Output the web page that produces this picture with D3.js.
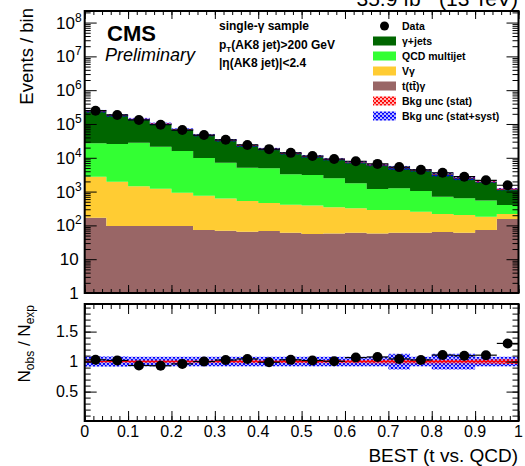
<!DOCTYPE html>
<html>
<head>
<meta charset="utf-8">
<script src="https://cdn.jsdelivr.net/npm/d3@7"></script>
<style>
  body { margin: 0; background: #fff; }
  svg { display: block; font-family: 'Liberation Sans', Arial, Helvetica, sans-serif; }
</style>
</head>
<body>
<svg id="chart" width="525" height="466"></svg>
<script>
// Lower edges of the 20 BEST (t vs. QCD) bins, each 0.05 wide
const binLow = [0, 0.05, 0.1, 0.15, 0.2, 0.25, 0.3, 0.35, 0.4, 0.45,
  0.5, 0.55, 0.6, 0.65, 0.7, 0.75, 0.8, 0.85, 0.9, 0.95];
const binWidth = 0.05;

// Observed events per bin
const dataCounts = [247000, 185000, 131000, 95000, 66000, 47000, 34000, 24000, 18000, 14000,
  11300, 9200, 7900, 6600, 5300, 4400, 3600, 2760, 2160, 1540];

// Background components (stacked bottom to top)
const tGamma = [169, 96, 96, 96, 96, 73, 70, 65, 68, 61,
  56, 58, 61, 58, 61, 61, 64, 61, 73, 155];
const vGamma = [2590, 1860, 1340, 1120, 830, 680, 550, 460, 390, 350,
  330, 285, 260, 228, 225, 193, 153, 142, 108, 62];
const qcdMultijet = [24100, 23600, 26600, 20100, 15000, 9100, 6540, 4560, 4430, 2840,
  2720, 2130, 1440, 910, 970, 790, 490, 430, 360, 185];
const gammaJets = [213000, 156000, 112000, 80700, 52700, 37100, 26000, 17900, 13300, 10350,
  8000, 6670, 5640, 4930, 3820, 3240, 2540, 1880, 1410, 780];

// Relative background uncertainty per bin
const statUnc = [0.015, 0.015, 0.02, 0.02, 0.02, 0.02, 0.02, 0.025, 0.02, 0.025,
  0.025, 0.025, 0.025, 0.03, 0.03, 0.03, 0.03, 0.03, 0.035, 0.04];
const totalUnc = [0.085, 0.085, 0.08, 0.08, 0.08, 0.08, 0.08, 0.08, 0.08, 0.08,
  0.08, 0.08, 0.08, 0.08, 0.13, 0.08, 0.13, 0.13, 0.08, 0.08];

// Axis ticks and labels
const xTicks = [0, 0.1, 0.2, 0.3, 0.4, 0.5, 0.6, 0.7, 0.8, 0.9, 1];
const decadeTicks = [1, 10, 1e2, 1e3, 1e4, 1e5, 1e6, 1e7, 1e8];
const ratioTicks = [0.5, 1, 1.5];

const layerKeys = ['tGamma', 'vGamma', 'qcdMultijet', 'gammaJets'];
const layerColors = {
  tGamma: '#996666',
  vGamma: '#ffcc33',
  qcdMultijet: '#33ff33',
  gammaJets: '#006600'
};

const svg = d3.select('#chart');
const frame = {left: 84.7, right: 518.5};
const upperPad = {top: 11, bottom: 293};
const lowerPad = {top: 304, bottom: 421};

const x = d3.scaleLinear().domain([0, 1]).range([frame.left, frame.right]);
const y = d3.scaleLog().domain([1, 2.2e8]).range([upperPad.bottom, upperPad.top]);
const yRatio = d3.scaleLinear().domain([0.01, 1.96]).range([lowerPad.bottom, lowerPad.top]);

const rows = binLow.map((lo, i) => ({
  lo,
  tGamma: tGamma[i],
  vGamma: vGamma[i],
  qcdMultijet: qcdMultijet[i],
  gammaJets: gammaJets[i]
}));
const totals = rows.map((r) => d3.sum(layerKeys, (k) => r[k]));
const layers = d3.stack().keys(layerKeys)(rows);

// hatch patterns for the uncertainty bands
const defs = svg.append('defs');
[['hatch-blue', '#0000ff'], ['hatch-red', '#ff0000']].forEach(([id, color]) => {
  const p = defs.append('pattern')
    .attr('id', id)
    .attr('width', 4)
    .attr('height', 4)
    .attr('patternUnits', 'userSpaceOnUse');
  p.append('path')
    .attr('d', 'M0,0L4,4M4,0L0,4M-1,3L1,5M3,-1L5,1')
    .attr('stroke', color)
    .attr('stroke-width', 1.15)
    .attr('fill', 'none');
});
defs.append('clipPath').attr('id', 'clip-upper')
  .append('rect')
  .attr('x', frame.left).attr('y', upperPad.top)
  .attr('width', frame.right - frame.left).attr('height', upperPad.bottom - upperPad.top);

// ---- upper pad: stacked backgrounds
const stepArea = d3.area()
  .x((d) => x(d.x))
  .y0((d) => y(Math.max(d.y0, 1)))
  .y1((d) => y(Math.max(d.y1, 1)))
  .curve(d3.curveStepAfter);

const upper = svg.append('g').attr('clip-path', 'url(#clip-upper)');

upper.selectAll('.layer')
  .data(layers)
  .enter()
  .append('path')
  .attr('class', 'layer')
  .attr('fill', (d) => layerColors[d.key])
  .attr('d', (layer) => {
    const pts = layer.map((d, i) => ({x: binLow[i], y0: d[0], y1: d[1]}));
    const last = pts[pts.length - 1];
    pts.push({x: last.x + binWidth, y0: last.y0, y1: last.y1});
    return stepArea(pts);
  });

function drawBand(g, uncs, fill, yScale, center) {
  g.selectAll(null)
    .data(binLow)
    .enter()
    .append('rect')
    .attr('x', (d) => x(d))
    .attr('width', x(binWidth) - x(0))
    .attr('y', (d, i) => yScale(center[i] * (1 + uncs[i])))
    .attr('height', (d, i) => yScale(center[i] * (1 - uncs[i])) - yScale(center[i] * (1 + uncs[i])))
    .attr('fill', fill);
}

drawBand(upper, totalUnc, 'url(#hatch-blue)', y, totals);
drawBand(upper, statUnc, 'url(#hatch-red)', y, totals);

function drawPoints(g, values, errors, yScale) {
  const pt = g.selectAll(null)
    .data(binLow)
    .enter()
    .append('g');
  pt.append('line')
    .attr('x1', (d) => x(d))
    .attr('x2', (d) => x(d + binWidth))
    .attr('y1', (d, i) => yScale(values[i]))
    .attr('y2', (d, i) => yScale(values[i]))
    .attr('stroke', '#000')
    .attr('stroke-width', 1.2);
  pt.append('line')
    .attr('x1', (d) => x(d + binWidth / 2))
    .attr('x2', (d) => x(d + binWidth / 2))
    .attr('y1', (d, i) => yScale(values[i] + errors[i]))
    .attr('y2', (d, i) => yScale(values[i] - errors[i]))
    .attr('stroke', '#000')
    .attr('stroke-width', 1.2);
  pt.append('circle')
    .attr('cx', (d) => x(d + binWidth / 2))
    .attr('cy', (d, i) => yScale(values[i]))
    .attr('r', 5)
    .attr('fill', '#000');
}

drawPoints(upper, dataCounts, dataCounts.map((n) => Math.sqrt(n)), y);

// ---- lower pad: data / background
const ratio = dataCounts.map((n, i) => n / totals[i]);
const ratioErr = dataCounts.map((n, i) => Math.sqrt(n) / totals[i]);
const ones = binLow.map(() => 1);

const lower = svg.append('g');
drawBand(lower, totalUnc, 'url(#hatch-blue)', yRatio, ones);
drawBand(lower, statUnc, 'url(#hatch-red)', yRatio, ones);
lower.append('line')
  .attr('x1', x(0)).attr('x2', x(1))
  .attr('y1', yRatio(1)).attr('y2', yRatio(1))
  .attr('stroke', '#ff0000')
  .attr('stroke-width', 1);
drawPoints(lower, ratio, ratioErr, yRatio);

// ---- axes (ROOT style: inward ticks on all four sides)
function ticks(axis, scale, values, size, transform) {
  svg.append('g')
    .attr('transform', transform)
    .call(axis(scale).tickValues(values).tickSize(-size).tickFormat(''))
    .call((g) => g.select('.domain').remove())
    .call((g) => g.selectAll('line').attr('stroke', '#000').attr('stroke-width', 1));
}

const xMinor = d3.range(0, 51).map((i) => i / 50);
const yMinor = [];
decadeTicks.forEach((p) => {
  for (let m = 2; m <= 9; m++) {
    if (m * p <= 2.2e8) yMinor.push(m * p);
  }
});
const ratioMinor = d3.range(1, 20).map((i) => i / 10);

[[upperPad, 8, 4], [lowerPad, 10, 5]].forEach(([pad, big, small]) => {
  ticks(d3.axisBottom, x, xTicks, big, `translate(0,${pad.bottom})`);
  ticks(d3.axisBottom, x, xMinor, small, `translate(0,${pad.bottom})`);
  ticks(d3.axisTop, x, xTicks, big, `translate(0,${pad.top})`);
  ticks(d3.axisTop, x, xMinor, small, `translate(0,${pad.top})`);
});
ticks(d3.axisLeft, y, decadeTicks, 12, `translate(${frame.left},0)`);
ticks(d3.axisLeft, y, yMinor, 6, `translate(${frame.left},0)`);
ticks(d3.axisRight, y, decadeTicks, 12, `translate(${frame.right},0)`);
ticks(d3.axisRight, y, yMinor, 6, `translate(${frame.right},0)`);
ticks(d3.axisLeft, yRatio, ratioTicks, 12, `translate(${frame.left},0)`);
ticks(d3.axisLeft, yRatio, ratioMinor, 6, `translate(${frame.left},0)`);
ticks(d3.axisRight, yRatio, ratioTicks, 12, `translate(${frame.right},0)`);
ticks(d3.axisRight, yRatio, ratioMinor, 6, `translate(${frame.right},0)`);

// frames
[upperPad, lowerPad].forEach((pad) => {
  svg.append('rect')
    .attr('x', frame.left)
    .attr('y', pad.top)
    .attr('width', frame.right - frame.left)
    .attr('height', pad.bottom - pad.top)
    .attr('fill', 'none')
    .attr('stroke', '#000')
    .attr('stroke-width', 2);
});

// tick labels
svg.append('g')
  .attr('font-size', 16)
  .attr('text-anchor', 'middle')
  .selectAll('text')
  .data(xTicks)
  .enter()
  .append('text')
  .attr('x', (d) => x(d))
  .attr('y', 436.5)
  .text((d) => d3.format('~g')(d));

svg.append('g')
  .attr('font-size', 16)
  .attr('text-anchor', 'end')
  .selectAll('text')
  .data(ratioTicks)
  .enter()
  .append('text')
  .attr('x', frame.left - 6.5)
  .attr('y', (d) => yRatio(d) + 5.5)
  .text((d) => d3.format('~g')(d));

svg.append('g')
  .attr('font-size', 17)
  .attr('text-anchor', 'end')
  .selectAll('text')
  .data(decadeTicks)
  .enter()
  .append('text')
  .attr('x', (d) => d < 100 ? frame.left - 6 : frame.left - 3)
  .attr('y', (d) => y(d) + 6)
  .each(function(d) {
    // eslint-disable-next-line no-invalid-this
    const t = d3.select(this);
    const exp = Math.round(Math.log10(d));
    if (exp < 2) {
      t.text(d);
      return;
    }
    t.append('tspan').text('10');
    t.append('tspan').attr('dy', -7).attr('font-size', 12).text(exp);
  });

// axis titles
svg.append('text')
  .attr('transform', 'translate(33,8) rotate(-90)')
  .attr('text-anchor', 'end')
  .attr('font-size', 18.5)
  .text('Events / bin');

const ratioTitle = svg.append('text')
  .attr('transform', 'translate(30,305) rotate(-90)')
  .attr('text-anchor', 'end')
  .attr('font-size', 17);
ratioTitle.append('tspan').text('N');
ratioTitle.append('tspan').attr('dy', 4).attr('font-size', 12).text('obs');
ratioTitle.append('tspan').attr('dy', -4).text(' / N');
ratioTitle.append('tspan').attr('dy', 4).attr('font-size', 12).text('exp');

svg.append('text')
  .attr('x', 518)
  .attr('y', 461.5)
  .attr('text-anchor', 'end')
  .attr('font-size', 19)
  .text('BEST (t vs. QCD)');

// luminosity label (clipped at the top of the canvas)
const lumi = svg.append('text')
  .attr('x', 518)
  .attr('y', 5.5)
  .attr('text-anchor', 'end')
  .attr('font-size', 21);
lumi.append('tspan').text('35.9 fb');
lumi.append('tspan').attr('dy', -8).attr('font-size', 14).text('-1');
lumi.append('tspan').attr('dy', 8).text(' (13 TeV)');

// CMS label and selection text
svg.append('text')
  .attr('x', 107)
  .attr('y', 41)
  .attr('font-size', 22)
  .attr('font-weight', 'bold')
  .text('CMS');
svg.append('text')
  .attr('x', 105)
  .attr('y', 60.5)
  .attr('font-size', 18)
  .attr('font-style', 'italic')
  .text('Preliminary');

const selection = svg.append('g')
  .attr('font-size', 12)
  .attr('font-weight', 'bold');
selection.append('text').attr('x', 219).attr('y', 30).text('single-γ sample');
const ptText = selection.append('text').attr('x', 219).attr('y', 48.5);
ptText.append('tspan').text('p');
ptText.append('tspan').attr('dy', 3).attr('font-size', 8).text('T');
ptText.append('tspan').attr('dy', -3).text('(AK8 jet)>200 GeV');
selection.append('text').attr('x', 219).attr('y', 67).text('|η(AK8 jet)|<2.4');

// legend
const legendItems = [
  {label: 'Data', kind: 'marker'},
  {label: 'γ+jets', fill: layerColors.gammaJets},
  {label: 'QCD multijet', fill: layerColors.qcdMultijet},
  {label: 'Vγ', fill: layerColors.vGamma},
  {label: 't(tt̄)γ', fill: layerColors.tGamma},
  {label: 'Bkg unc (stat)', fill: 'url(#hatch-red)'},
  {label: 'Bkg unc (stat+syst)', fill: 'url(#hatch-blue)'}
];

const legend = svg.append('g')
  .selectAll('g')
  .data(legendItems)
  .enter()
  .append('g')
  .attr('transform', (d, i) => `translate(373,${26 + i * 15})`);

legend.filter((d) => d.kind === 'marker')
  .append('circle')
  .attr('cx', 11.5)
  .attr('r', 4.5)
  .attr('fill', '#000');

legend.filter((d) => d.kind !== 'marker')
  .append('rect')
  .attr('y', -4.5)
  .attr('width', 23)
  .attr('height', 9)
  .attr('fill', (d) => d.fill);

legend.append('text')
  .attr('x', 29)
  .attr('y', 3.8)
  .attr('font-size', 10.5)
  .attr('font-weight', 'bold')
  .text((d) => d.label);
</script>
</body>
</html>
